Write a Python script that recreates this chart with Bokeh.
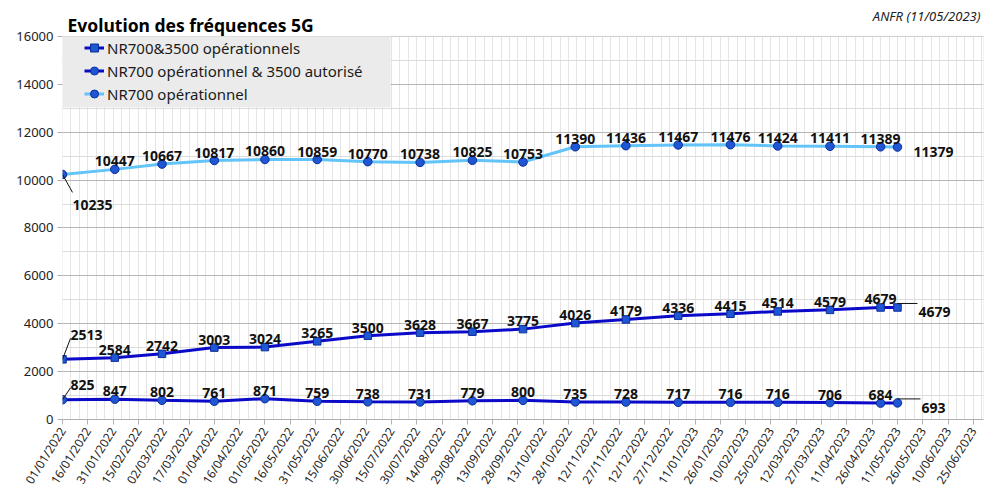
import datetime as dt
from bokeh.plotting import figure
from bokeh.models import (ColumnDataSource, FixedTicker, DatetimeTickFormatter,
                          Legend, LegendItem, BoxAnnotation, Range1d, Label)
from bokeh.core.properties import value
from bokeh.embed import file_html
from bokeh.resources import INLINE

# ---------------- data ----------------
dates = ["01/01/2022", "01/02/2022", "01/03/2022", "01/04/2022", "01/05/2022", "01/06/2022",
         "01/07/2022", "01/08/2022", "01/09/2022", "01/10/2022", "01/11/2022", "01/12/2022",
         "01/01/2023", "01/02/2023", "01/03/2023", "01/04/2023", "01/05/2023", "11/05/2023"]
nr700_op = [10235, 10447, 10667, 10817, 10860, 10859, 10770, 10738, 10825, 10753,
            11390, 11436, 11467, 11476, 11424, 11411, 11389, 11379]
nr700_3500_op = [2513, 2584, 2742, 3003, 3024, 3265, 3500, 3628, 3667, 3775,
                 4026, 4179, 4336, 4415, 4514, 4579, 4679, 4679]
nr700_op_3500_aut = [825, 847, 802, 761, 871, 759, 738, 731, 779, 800,
                     735, 728, 717, 716, 716, 706, 684, 693]
legend_labels = ["NR700&3500 opérationnels", "NR700 opérationnel & 3500 autorisé", "NR700 opérationnel"]
title_text = "Evolution des fréquences 5G"
source_text = "ANFR (11/05/2023)"
x_start, x_end = "01/01/2022", "01/07/2023"
tick_step_days, minor_step_days = 15, 5
y_max, y_step = 16000, 2000

# ---------------- helpers ----------------
EPOCH = dt.datetime(1970, 1, 1)
def ms(s):
    return (dt.datetime.strptime(s, "%d/%m/%Y") - EPOCH).total_seconds() * 1000.0

xs = [ms(d) for d in dates]
x0, x1 = ms(x_start), ms(x_end)
DAY = 86400000.0
ticks = []
t = x0
while t <= x1:
    ticks.append(t)
    t += tick_step_days * DAY
minor = []
t = x0
while t <= x1:
    minor.append(t)
    t += minor_step_days * DAY

W = 1000
TOP = 36                     # header area above the chart box (inside frame)
BL, BR, BB = 62, 17, 74
CH_W, CH_H = W - BL - BR, 384  # visible chart box
H = TOP + CH_H + BB
px_x = CH_W / (x1 - x0)      # px per ms
px_y = CH_H / y_max          # px per unit
y_top = y_max + TOP / px_y

FONT = "Noto Sans"
DARK = "#0a0ac8"
LIGHT = "#62c4f8"
MFILL = "#1f56d4"
MLINE = "#0c2d99"
GRAY = "#b0b0b0"

p = figure(width=W, height=H, x_axis_type="datetime", output_backend="svg",
           toolbar_location=None, x_range=Range1d(x0, x1), y_range=Range1d(0, y_top),
           min_border_left=BL, min_border_right=BR, min_border_top=0, min_border_bottom=BB)
p.background_fill_color = "white"
p.border_fill_color = "white"
p.outline_line_color = None

xt = FixedTicker(ticks=ticks, minor_ticks=minor)
p.xaxis.ticker = xt
fmt = "%d/%m/%Y"
p.xaxis.formatter = DatetimeTickFormatter(milliseconds=fmt, seconds=fmt, minsec=fmt, minutes=fmt,
                                          hourmin=fmt, hours=fmt, days=fmt, months=fmt, years=fmt)
p.xaxis.major_label_orientation = 1.01
p.yaxis.ticker = FixedTicker(ticks=list(range(0, y_max + 1, y_step)),
                             minor_ticks=list(range(0, y_max + 1, y_step // 2)))
for ax in (p.xaxis, p.yaxis):
    ax.axis_line_color = GRAY
    ax.major_tick_line_color = GRAY
    ax.major_tick_out = 5
    ax.major_tick_in = 0
    ax.minor_tick_line_color = None
    ax.major_label_text_font = FONT
    ax.major_label_text_color = "#222222"
    ax.major_label_standoff = 4
p.yaxis.axis_line_color = None
p.yaxis.major_label_text_font_size = "13px"
p.xaxis.major_label_text_font_size = "12px"

p.xgrid.grid_line_color = "#e4e4e4"
p.xgrid.minor_grid_line_color = "#e4e4e4"
p.ygrid.grid_line_color = "#b8b8b8"
p.ygrid.minor_grid_line_color = "#dcdcdc"

# white header area above the chart box, then the chart box outline
p.add_layout(BoxAnnotation(bottom=y_max, fill_color="white", fill_alpha=1.0, line_color=None))
p.add_layout(BoxAnnotation(left=x0, right=x1, bottom=0, top=y_max, fill_alpha=0.0,
                           line_color=GRAY, line_width=1))

# legend background box
p.add_layout(BoxAnnotation(left=x0, right=x0 + 328 / px_x, bottom=y_max - 71 / px_y, top=y_max,
                           fill_color="#ebebeb", fill_alpha=1.0, line_color=None))

series = [
    (nr700_3500_op, DARK, "square", 7.5),
    (nr700_op_3500_aut, DARK, "circle", 8.5),
    (nr700_op, LIGHT, "circle", 8.5),
]
items = []
for (vals, col, mk, sz), lab in zip(series, legend_labels):
    src = ColumnDataSource(dict(x=xs, y=vals))
    lr = p.line("x", "y", source=src, line_color=col, line_width=3)
    sr = p.scatter("x", "y", source=src, marker=mk, size=sz, fill_color=MFILL,
                   line_color=MLINE, line_width=1)
    items.append(LegendItem(label=lab, renderers=[lr, sr]))

    mid = ColumnDataSource(dict(x=xs[1:-1], y=vals[1:-1], t=[str(v) for v in vals[1:-1]]))
    p.text("x", "y", text="t", source=mid, text_align="center", text_baseline="alphabetic",
           y_offset=-8, text_font=value(FONT), text_font_size="14px", text_font_style="bold",
           text_color="#111111")

# special labels: (series values, index, text dx, text dy, leader start, leader end)
specials = [
    (nr700_op, 0, 10, 31, (0, 0), (10, 18)),
    (nr700_3500_op, 0, 8, -24, (0, 0), (8, -21)),
    (nr700_op_3500_aut, 0, 8, -15, (0, 0), (8, -12)),
    (nr700_op, -1, 16, 5, None, None),
    (nr700_3500_op, -1, 21, 5, (0, -4), (20, -4)),
    (nr700_op_3500_aut, -1, 24, 5, (0, -4), (23, -4)),
]
for vals, i, dx, dy, ls, le in specials:
    xv, yv = xs[i], vals[i]
    if ls is not None:
        p.segment(x0=[xv + ls[0] / px_x], y0=[yv - ls[1] / px_y],
                  x1=[xv + le[0] / px_x], y1=[yv - le[1] / px_y],
                  line_color="#111111", line_width=1)
    src = ColumnDataSource(dict(x=[xv], y=[yv], t=[str(yv)]))
    p.text("x", "y", text="t", source=src, text_align="left", text_baseline="alphabetic",
           x_offset=dx, y_offset=dy, text_font=value(FONT), text_font_size="14px",
           text_font_style="bold", text_color="#111111")

legend = Legend(items=items, location=(22, CH_H - 69), padding=1, spacing=2, margin=0,
                label_height=21, glyph_height=21, glyph_width=20, label_standoff=3,
                label_text_font=FONT, label_text_font_size="15px", label_text_color="#1a1a1a",
                border_line_color=None, background_fill_alpha=0.0)
p.add_layout(legend)

# header texts (inside the frame, in the white area above the chart box)
p.add_layout(Label(x=5, y=CH_H + TOP - 25, x_units="screen", y_units="screen", text=title_text,
                   text_font=FONT, text_font_size="17.5px", text_font_style="bold",
                   text_color="#000000", text_baseline="alphabetic", text_align="left"))
p.add_layout(Label(x=980 - BL, y=CH_H + TOP - 16, x_units="screen", y_units="screen",
                   text=source_text, text_font=FONT, text_font_size="13px",
                   text_font_style="italic", text_color="#222222",
                   text_baseline="alphabetic", text_align="right"))

open("out.html", "w").write(file_html(p, INLINE))
